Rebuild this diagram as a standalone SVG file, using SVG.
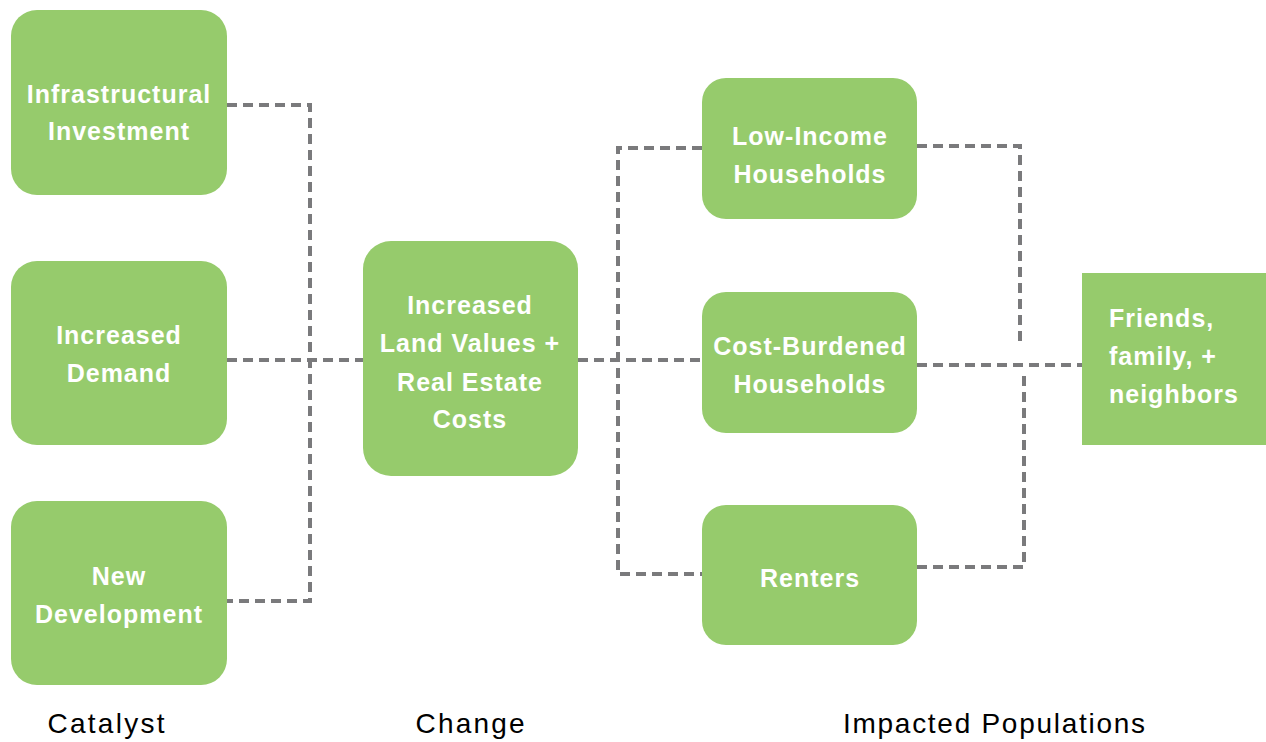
<svg xmlns="http://www.w3.org/2000/svg" width="1266" height="742" viewBox="0 0 1266 742">
<style>
.box{fill:#96cb6c;}
.t{font-family:"Liberation Sans",Arial,sans-serif;font-weight:bold;font-size:25px;fill:#ffffff;letter-spacing:1px;text-anchor:middle;}
.tl{font-family:"Liberation Sans",Arial,sans-serif;font-weight:bold;font-size:25px;fill:#ffffff;letter-spacing:1px;}
.c{fill:none;stroke:#7a7a7c;stroke-width:4;stroke-dasharray:10 6;}
.lab{font-family:"Liberation Sans",Arial,sans-serif;font-size:28px;fill:#000000;text-anchor:middle;}
</style>
<rect width="1266" height="742" fill="#ffffff"/>
<g id="connectors">
<path class="c" d="M227,105 H310 V601 H227"/>
<path class="c" d="M227,360 H363"/>
<path class="c" d="M578,360 H702"/>
<path class="c" d="M702,148 H618 V574 H702"/>
<path class="c" d="M917,146 H1020 V343"/>
<path class="c" d="M917,365 H1082"/>
<path class="c" d="M917,567 H1024 V370"/>
</g>
<g id="infrastructural">
<rect class="box" x="11" y="10" width="216" height="185" rx="26"/>
<text class="t" x="119" y="103">Infrastructural</text>
<text class="t" x="119" y="140">Investment</text>
</g>
<g id="demand">
<rect class="box" x="11" y="261" width="216" height="184" rx="26"/>
<text class="t" x="119" y="344">Increased</text>
<text class="t" x="119" y="382">Demand</text>
</g>
<g id="development">
<rect class="box" x="11" y="501" width="216" height="184" rx="26"/>
<text class="t" x="119" y="585">New</text>
<text class="t" x="119" y="623">Development</text>
</g>
<g id="landvalues">
<rect class="box" x="363" y="241" width="215" height="235" rx="28"/>
<text class="t" x="470" y="314">Increased</text>
<text class="t" x="470" y="352">Land Values +</text>
<text class="t" x="470" y="391">Real Estate</text>
<text class="t" x="470" y="428">Costs</text>
</g>
<g id="lowincome">
<rect class="box" x="702" y="78" width="215" height="141" rx="24"/>
<text class="t" x="810" y="145">Low-Income</text>
<text class="t" x="810" y="183">Households</text>
</g>
<g id="costburdened">
<rect class="box" x="702" y="292" width="215" height="141" rx="24"/>
<text class="t" x="810" y="355">Cost-Burdened</text>
<text class="t" x="810" y="393">Households</text>
</g>
<g id="renters">
<rect class="box" x="702" y="505" width="215" height="140" rx="24"/>
<text class="t" x="810" y="587">Renters</text>
</g>
<g id="friends">
<rect class="box" x="1082" y="273" width="184" height="172"/>
<text class="tl" x="1109" y="327">Friends,</text>
<text class="tl" x="1109" y="365">family, +</text>
<text class="tl" x="1109" y="403">neighbors</text>
</g>
<g id="labels">
<text class="lab" x="106" y="733" textLength="117" lengthAdjust="spacing">Catalyst</text>
<text class="lab" x="470" y="733" textLength="109" lengthAdjust="spacing">Change</text>
<text class="lab" x="994" y="733" textLength="302" lengthAdjust="spacing">Impacted Populations</text>
</g>
</svg>
